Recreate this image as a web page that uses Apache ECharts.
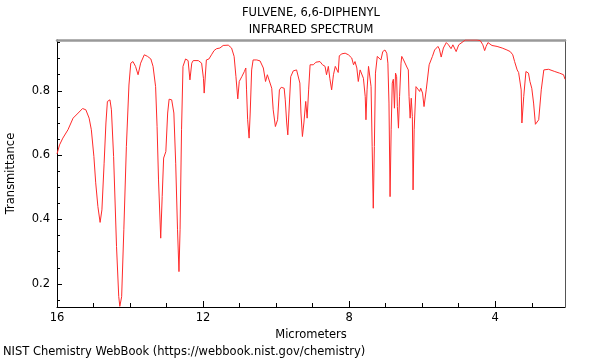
<!DOCTYPE html>
<html>
<head>
<meta charset="utf-8">
<script src="https://cdn.jsdelivr.net/npm/echarts@6/dist/echarts.min.js"></script>
<style>html,body{margin:0;padding:0;background:#fff}#c{width:600px;height:360px}</style>
</head>
<body>
<div id="c"></div>
<script>
const wavelength = [16.00,15.93,15.84,15.70,15.56,15.42,15.30,15.21,15.12,15.06,14.99,14.94,14.88,14.82,14.77,14.71,14.66,14.62,14.55,14.51,14.45,14.37,14.31,14.28,14.23,14.17,14.10,14.03,13.98,13.92,13.85,13.78,13.71,13.61,13.52,13.43,13.37,13.30,13.26,13.22,13.16,13.12,13.08,13.05,13.02,12.97,12.93,12.86,12.80,12.75,12.70,12.66,12.63,12.59,12.55,12.48,12.41,12.36,12.31,12.27,12.13,12.04,11.99,11.97,11.91,11.84,11.77,11.70,11.63,11.54,11.45,11.31,11.22,11.15,11.10,11.05,11.01,10.94,10.87,10.83,10.81,10.78,10.74,10.71,10.67,10.63,10.53,10.44,10.35,10.29,10.24,10.19,10.12,10.08,10.02,9.96,9.91,9.86,9.78,9.75,9.71,9.68,9.65,9.60,9.53,9.44,9.39,9.35,9.32,9.28,9.24,9.19,9.15,9.11,9.07,8.98,8.91,8.80,8.73,8.66,8.62,8.57,8.53,8.48,8.43,8.38,8.34,8.30,8.27,8.20,8.11,8.02,7.93,7.88,7.84,7.79,7.75,7.70,7.65,7.61,7.56,7.54,7.51,7.47,7.43,7.40,7.37,7.34,7.31,7.28,7.23,7.18,7.13,7.08,7.02,6.97,6.94,6.91,6.88,6.85,6.82,6.79,6.76,6.73,6.70,6.68,6.65,6.62,6.58,6.56,6.51,6.47,6.42,6.38,6.36,6.33,6.30,6.27,6.25,6.22,6.17,6.12,6.07,6.04,5.99,5.95,5.89,5.81,5.76,5.72,5.66,5.62,5.57,5.53,5.48,5.42,5.34,5.28,5.21,5.16,5.12,5.07,5.00,4.82,4.68,4.50,4.41,4.34,4.29,4.25,4.20,4.09,3.95,3.81,3.68,3.59,3.52,3.47,3.40,3.36,3.33,3.29,3.27,3.22,3.16,3.09,3.05,3.00,2.95,2.90,2.81,2.74,2.67,2.54,2.37,2.24,2.13,2.09];
const transmittance = [0.604,0.632,0.653,0.679,0.715,0.731,0.745,0.741,0.715,0.679,0.596,0.514,0.440,0.391,0.430,0.575,0.700,0.767,0.772,0.741,0.596,0.316,0.161,0.130,0.160,0.368,0.627,0.818,0.886,0.891,0.876,0.850,0.886,0.912,0.907,0.899,0.876,0.813,0.689,0.523,0.342,0.471,0.591,0.586,0.611,0.731,0.774,0.772,0.731,0.575,0.368,0.238,0.368,0.679,0.876,0.899,0.894,0.834,0.886,0.894,0.894,0.886,0.839,0.793,0.896,0.899,0.912,0.925,0.931,0.933,0.941,0.942,0.933,0.907,0.844,0.775,0.829,0.844,0.860,0.871,0.803,0.710,0.653,0.731,0.865,0.896,0.896,0.893,0.871,0.829,0.850,0.844,0.808,0.741,0.689,0.710,0.803,0.811,0.808,0.772,0.700,0.663,0.731,0.844,0.862,0.865,0.860,0.824,0.731,0.658,0.700,0.767,0.715,0.803,0.881,0.881,0.889,0.891,0.881,0.876,0.850,0.876,0.839,0.803,0.850,0.876,0.881,0.857,0.909,0.915,0.917,0.912,0.902,0.881,0.891,0.871,0.829,0.865,0.860,0.839,0.782,0.710,0.803,0.876,0.871,0.813,0.627,0.435,0.627,0.855,0.907,0.912,0.896,0.922,0.927,0.917,0.886,0.762,0.471,0.679,0.824,0.836,0.746,0.855,0.844,0.751,0.684,0.782,0.886,0.907,0.896,0.902,0.874,0.865,0.782,0.715,0.777,0.720,0.492,0.679,0.813,0.813,0.798,0.808,0.793,0.751,0.803,0.881,0.886,0.907,0.927,0.927,0.938,0.930,0.905,0.933,0.950,0.943,0.931,0.943,0.943,0.922,0.943,0.958,0.958,0.958,0.956,0.943,0.925,0.938,0.950,0.941,0.938,0.933,0.927,0.922,0.912,0.891,0.865,0.857,0.860,0.803,0.700,0.782,0.860,0.855,0.829,0.808,0.762,0.696,0.710,0.803,0.865,0.867,0.860,0.855,0.850,0.836,0.834];
const xMajorTicks = [4, 8, 12, 16];
const xMinorTicks = [3, 5, 6, 7, 9, 10, 11, 13, 14, 15];
const yLabelTicks = [0.2, 0.4, 0.6, 0.8];
const yMinorTicks = [0.15, 0.25, 0.3, 0.35, 0.45, 0.5, 0.55, 0.65, 0.7, 0.75, 0.85, 0.9, 0.95];
const titleLines = ['FULVENE, 6,6-DIPHENYL', 'INFRARED SPECTRUM'];

const FONT = 'DejaVu Sans';
const FS = 11.5;
const X_MIN = 2.09, X_MAX = 16, Y_MIN = 0.128, Y_MAX = 0.958;
const chart = echarts.init(document.getElementById('c'), null, {renderer: 'canvas'});
const data = wavelength.map((w, i) => [w, transmittance[i]]);
const baseX = {type: 'value', min: X_MIN, max: X_MAX, inverse: true, splitLine: {show: false}};
const baseY = {type: 'value', min: Y_MIN, max: Y_MAX, splitLine: {show: false}};
const txt = {fontFamily: FONT, fontSize: FS, fontWeight: 'normal', color: '#000'};
chart.setOption({
  animation: false,
  backgroundColor: '#fff',
  title: [
    {text: titleLines[0], left: 311, top: 7, padding: 0, textAlign: 'center', textStyle: txt},
    {text: titleLines[1], left: 311, top: 24, padding: 0, textAlign: 'center', textStyle: txt},
    {text: 'NIST Chemistry WebBook (https://webbook.nist.gov/chemistry)', left: 3, top: 346, padding: 0, textStyle: txt}
  ],
  grid: {left: 57, right: 35, top: 40, bottom: 53, containLabel: false, outerBoundsMode: 'none'},
  xAxis: [
    Object.assign({}, baseX, {
      position: 'bottom', name: 'Micrometers', nameLocation: 'middle', nameGap: 19,
      nameTextStyle: txt,
      axisLine: {show: true, onZero: false, lineStyle: {color: '#000', width: 1}},
      axisTick: {show: true, inside: true, length: 6, customValues: xMajorTicks, lineStyle: {color: '#000'}},
      axisLabel: Object.assign({show: true, customValues: xMajorTicks, margin: 5}, txt)
    }),
    Object.assign({}, baseX, {
      position: 'bottom',
      axisLine: {show: false, onZero: false},
      axisTick: {show: true, inside: true, length: 4, customValues: xMinorTicks, lineStyle: {color: '#000'}},
      axisLabel: {show: false}
    }),
    Object.assign({}, baseX, {
      position: 'top',
      axisLine: {show: true, onZero: false, lineStyle: {color: '#999', width: 2.5}},
      axisTick: {show: false}, axisLabel: {show: false}
    })
  ],
  yAxis: [
    Object.assign({}, baseY, {
      position: 'left', name: 'Transmittance', nameLocation: 'middle', nameGap: 40,
      nameTextStyle: txt,
      axisLine: {show: true, onZero: false, lineStyle: {color: '#000', width: 1}},
      axisTick: {show: true, inside: true, length: 5, customValues: yLabelTicks, lineStyle: {color: '#000'}},
      axisLabel: Object.assign({show: true, customValues: yLabelTicks, margin: 7, formatter: v => v.toFixed(1)}, txt)
    }),
    Object.assign({}, baseY, {
      position: 'left',
      axisLine: {show: false, onZero: false},
      axisTick: {show: true, inside: true, length: 3, customValues: yMinorTicks, lineStyle: {color: '#000'}},
      axisLabel: {show: false}
    }),
    Object.assign({}, baseY, {
      position: 'right',
      axisLine: {show: true, onZero: false, lineStyle: {color: '#555', width: 1}},
      axisTick: {show: false}, axisLabel: {show: false}
    })
  ],
  series: [{
    type: 'line', xAxisIndex: 0, yAxisIndex: 0, data: data,
    showSymbol: false, symbol: 'none', smooth: false,
    lineStyle: {color: '#ff2a2a', width: 1},
    clip: true
  }]
});
</script>
</body>
</html>
